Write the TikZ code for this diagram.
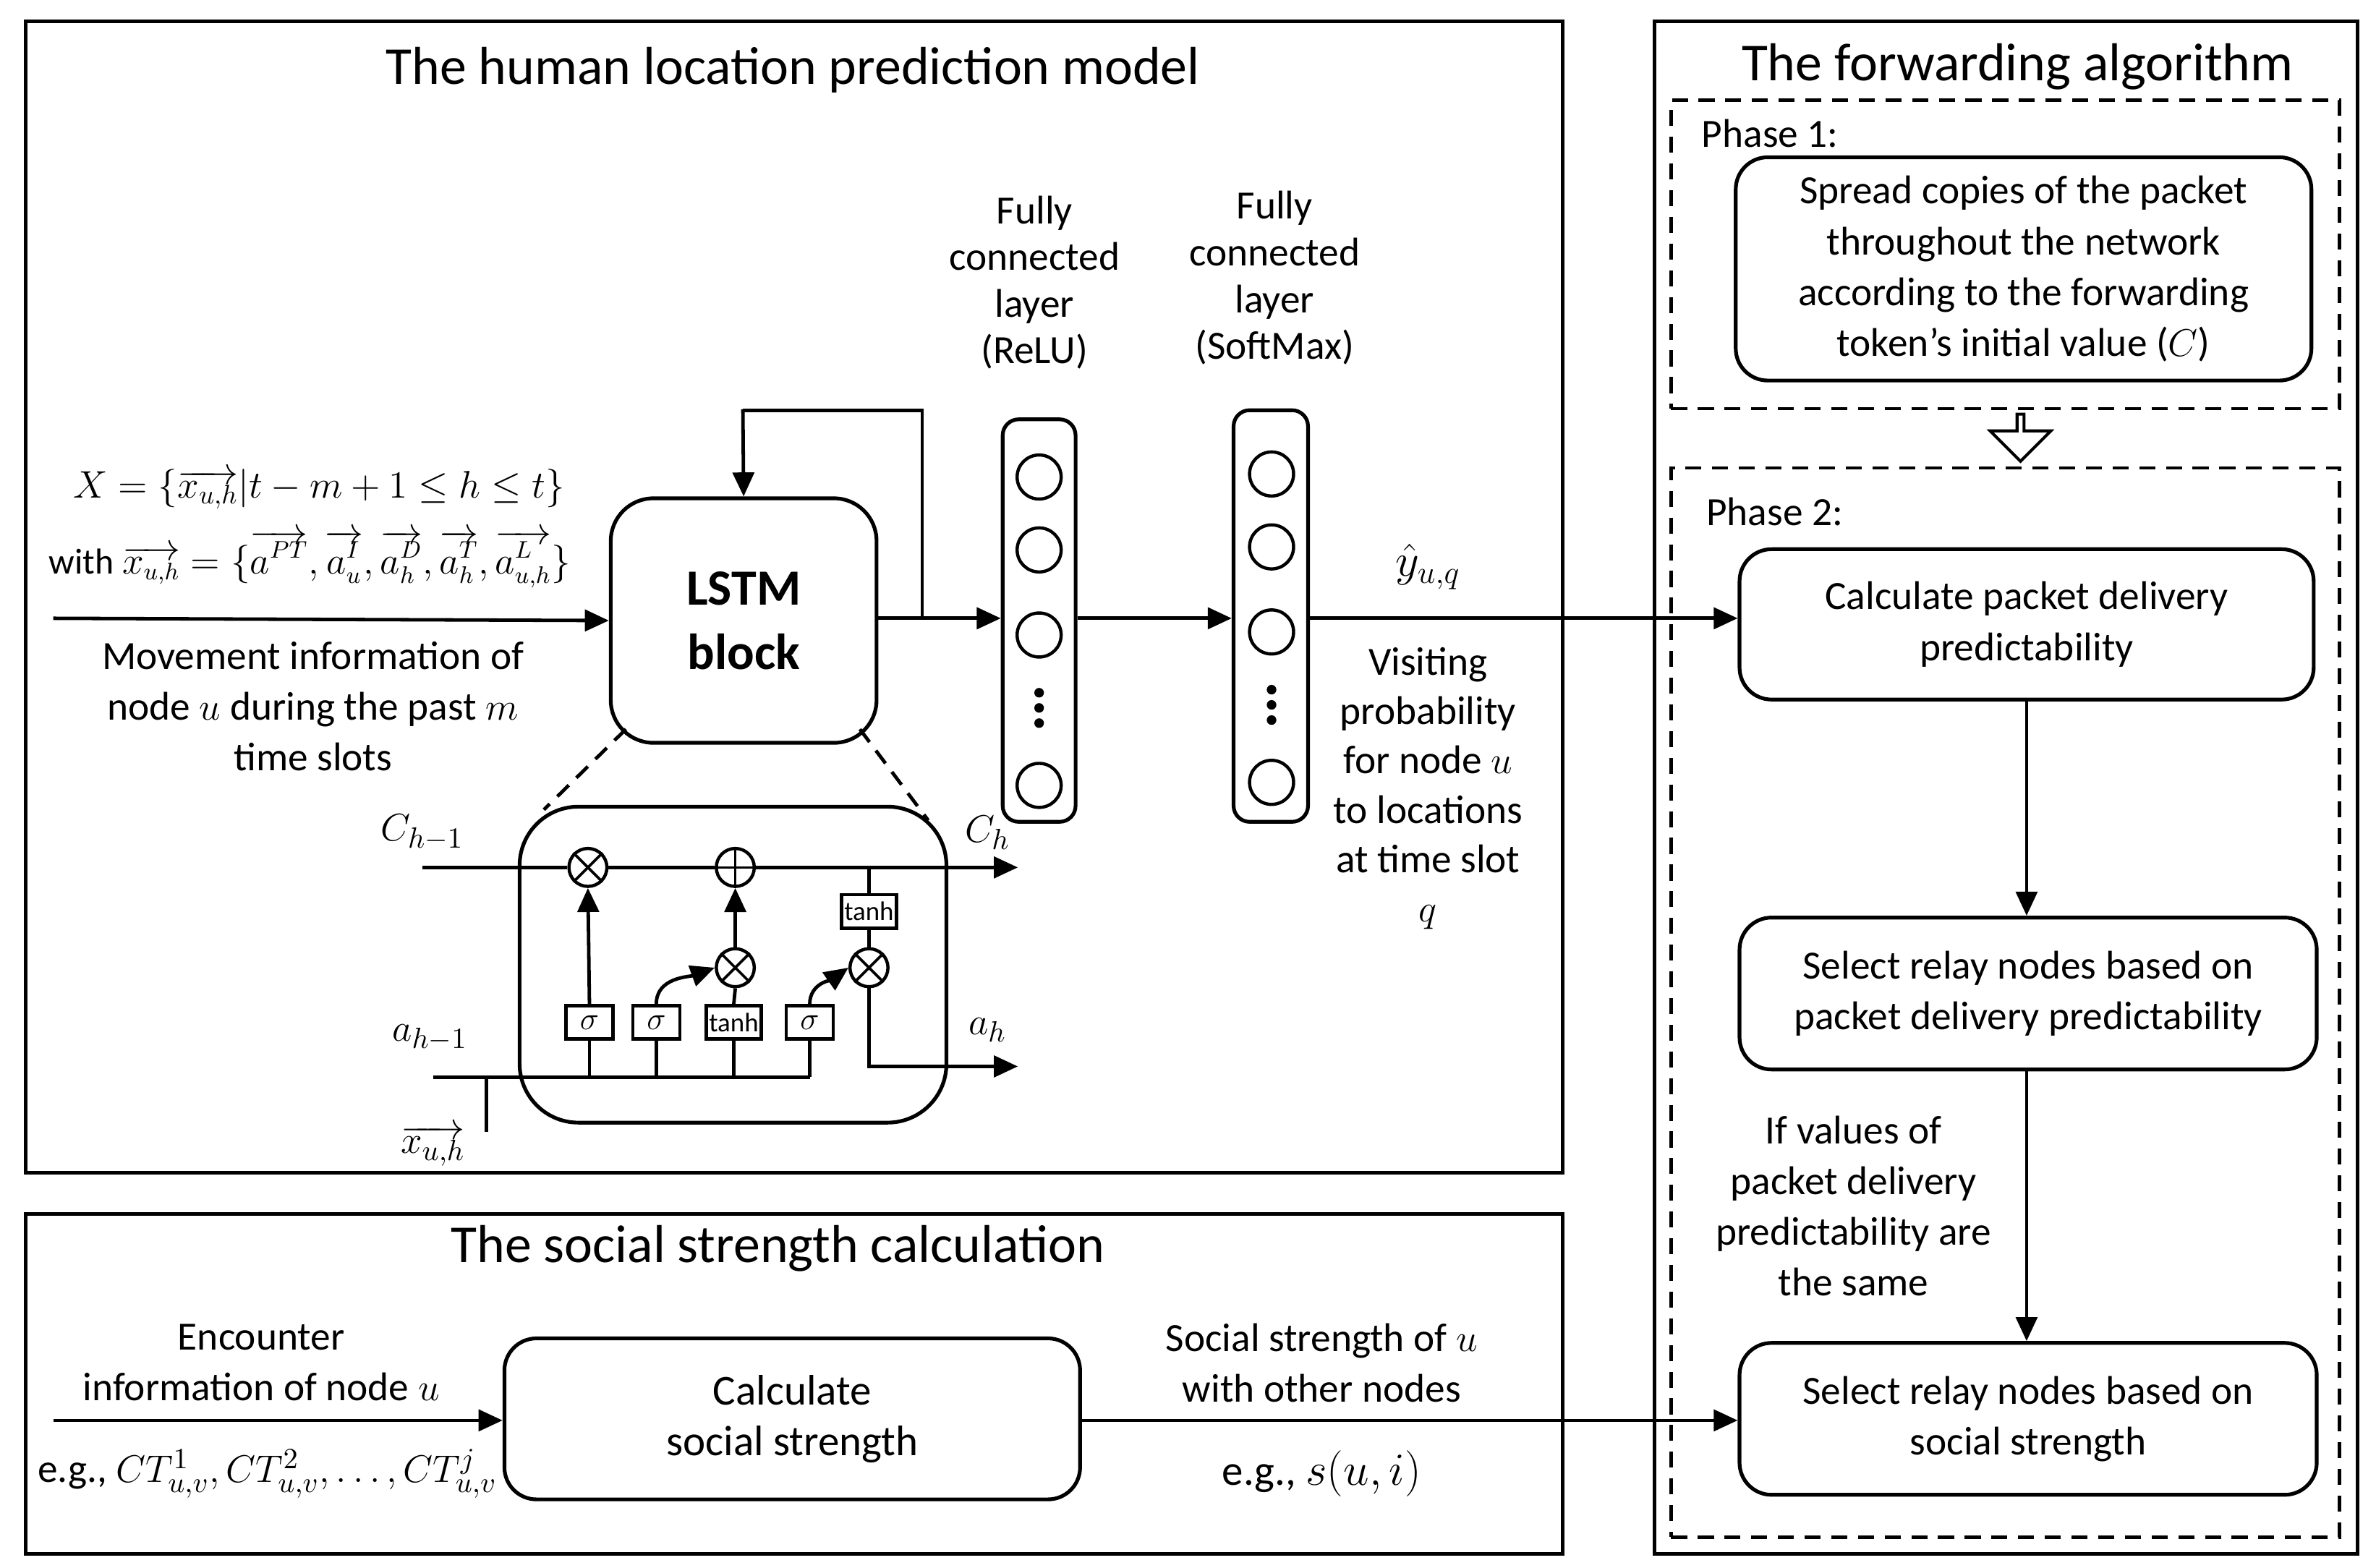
\documentclass[tikz,border=0pt]{standalone}
\usepackage{fontspec}
\setmainfont{Carlito}
\usetikzlibrary{arrows.meta,shapes.geometric,shapes.arrows}
\begin{document}
\begin{tikzpicture}[x=0.02cm,y=-0.02cm,
  box/.style={draw,line width=1.4pt,outer sep=0pt},
  rbox/.style={draw,line width=1.4pt,rounded corners=12pt},
  dbox/.style={draw,line width=1.2pt,dash pattern=on 6pt off 4pt,outer sep=0pt},
  arr/.style={line width=1.3pt,-{Triangle[length=9pt,width=8pt]}},
  ln/.style={line width=1.3pt},
  txt/.style={font=\fontsize{15}{19}\selectfont,align=center},
  ttl/.style={font=\fontsize{20}{24}\selectfont},
  op/.style={draw,circle,line width=1.2pt,minimum size=0.5cm,inner sep=0pt},
  gate/.style={draw,line width=1.2pt,minimum width=0.62cm,minimum height=0.44cm,inner sep=1pt,font=\fontsize{10}{12}\selectfont},
  neu/.style={draw,circle,line width=1.2pt,minimum size=0.58cm,inner sep=0pt}]
\useasboundingbox (0,0) rectangle (1564,1032);
% frames
\node[box,minimum width=20.24cm,minimum height=15.16cm,anchor=north west] (F1) at (17,14) {};
\node[box,minimum width=20.24cm,minimum height=4.48cm,anchor=north west] (F2) at (17,799) {};
\node[box,minimum width=9.26cm,minimum height=20.18cm,anchor=north west] (F3) at (1089,14) {};
\node[ttl] (t1) at (522,46) {The human location prediction model};
\node[ttl] (t2) at (512,822) {The social strength calculation};
\node[ttl] (t3) at (1328,44) {The forwarding algorithm};
% phases
\node[dbox,minimum width=8.8cm,minimum height=4.06cm,anchor=north west] (P1) at (1100,66) {};
\node[dbox,minimum width=8.8cm,minimum height=14.08cm,anchor=north west] (P2) at (1100,308) {};
\node[txt,anchor=west] (p1) at (1114,88) {Phase 1:};
\node[txt,anchor=west] (p2) at (1117,337) {Phase 2:};
\node[rbox,txt,minimum width=7.58cm,minimum height=2.94cm] (S) at (1332,177) {Spread copies of the packet\\throughout the network\\according to the forwarding\\token’s initial value ($C$)};
\node[single arrow,draw,line width=1.1pt,shape border rotate=270,minimum height=0.62cm,minimum width=0.8cm,single arrow head extend=0.15cm,inner sep=0pt] (ha) at (1330,287) {};
\node[rbox,txt,minimum width=7.56cm,minimum height=1.98cm] (B1) at (1334,411) {Calculate packet delivery\\predictability};
\node[rbox,txt,minimum width=7.6cm,minimum height=2cm] (B2) at (1335,654) {Select relay nodes based on\\packet delivery predictability};
\node[rbox,txt,minimum width=7.6cm,minimum height=2cm] (B3) at (1335,934) {Select relay nodes based on\\social strength};
\draw[arr] (B1.south -| 1334,0) -- (B2.north -| 1334,0);
\draw[arr] (B2.south -| 1334,0) -- (B3.north -| 1334,0);
\node[txt,font=\fontsize{15}{19}\selectfont] (iv) at (1220,794) {If values of\\packet delivery\\predictability are\\the same};
% LSTM block
\node[rbox,txt,minimum width=3.5cm,minimum height=3.22cm,rounded corners=16pt,font=\fontsize{19}{24}\bfseries\selectfont] (L) at (489.5,408.5) {LSTM\\block};
\coordinate (in) at (35,407);
\draw[arr] (in) -- (L.west);
\node[txt,font=\fontsize{14}{16}\selectfont] (f1) at (210,322) {$X=\{\overrightarrow{x_{u,h}}|t-m+1\le h\le t\}$};
\node[txt,font=\fontsize{13.5}{16}\selectfont] (f2) at (204,368) {with $\overrightarrow{x_{u,h}}=\{\overrightarrow{a^{PT}},\overrightarrow{a^{I}_{u}},\overrightarrow{a^{D}_{h}},\overrightarrow{a^{T}_{h}},\overrightarrow{a^{L}_{u,h}}\}$};
\node[txt,font=\fontsize{15}{19}\selectfont] (mv) at (206,465) {Movement information of\\node $u$ during the past $m$\\time slots};
% FC layers
\node[draw,line width=1.4pt,rounded corners=6pt,minimum width=0.96cm,minimum height=5.3cm] (FC1) at (684,408.5) {};
\node[draw,line width=1.4pt,rounded corners=6pt,minimum width=0.98cm,minimum height=5.42cm] (FC2) at (836.5,405.5) {};
\foreach \y/\n in {314/a,362/b,418/c,517/d} \node[neu] (n1\n) at (684,\y) {};
\foreach \y/\n in {312/a,360/b,416/c,515/d} \node[neu] (n2\n) at (837,\y) {};
\foreach \y in {456,466,476} \fill (684,\y) circle (1.8pt);
\foreach \y in {454,464,474} \fill (837,\y) circle (1.8pt);
\node[txt,font=\fontsize{15}{17.5}\selectfont] (l1) at (681,186) {Fully\\connected\\layer\\(ReLU)};
\node[txt,font=\fontsize{15}{17.5}\selectfont] (l2) at (839,183) {Fully\\connected\\layer\\(SoftMax)};
\coordinate (fb) at (607,407);
\draw[ln] (L.east |- fb) -- (fb);
\draw[arr] (fb) -- (FC1.west |- fb);
\draw[ln] (fb) -- (607,270) -- (489,270);
\draw[arr] (489,269.4) -- (L.north);
\draw[arr] (FC1.east |- 0,407) -- (FC2.west |- 0,407);
\draw[arr] (FC2.east |- 0,407) -- (B1.west |- 0,407);
\node[txt,font=\fontsize{17}{20}\selectfont] (yh) at (940,373) {$\hat{y}_{u,q}$};
\node[txt,font=\fontsize{15}{18.5}\selectfont] (vp) at (940,519) {Visiting\\probability\\for node $u$\\to locations\\at time slot\\$q$};
% LSTM cell
\node[draw,line width=1.4pt,rounded corners=22pt,minimum width=5.62cm,minimum height=4.16cm] (cell) at (482.5,635) {};
\draw[ln,dash pattern=on 6pt off 4pt] (412,480) -- (358,533);
\draw[ln,dash pattern=on 6pt off 4pt] (566,480) -- (611,540);
\node[op] (m1) at (387,571) {}; \draw[line width=1pt] (m1.north west)--(m1.south east) (m1.north east)--(m1.south west);
\node[op] (pl) at (484,571) {}; \draw[line width=1pt] (pl.north)--(pl.south) (pl.west)--(pl.east);
\node[op] (m2) at (484,637) {}; \draw[line width=1pt] (m2.north west)--(m2.south east) (m2.north east)--(m2.south west);
\node[op] (m3) at (572,637) {}; \draw[line width=1pt] (m3.north west)--(m3.south east) (m3.north east)--(m3.south west);
\node[gate,font=\fontsize{13}{14}\selectfont] (g1) at (388,673) {$\sigma$};
\node[gate,font=\fontsize{13}{14}\selectfont] (g2) at (432,673) {$\sigma$};
\node[gate,minimum width=0.7cm] (g3) at (483,673) {tanh};
\node[gate,font=\fontsize{13}{14}\selectfont] (g4) at (533,673) {$\sigma$};
\node[gate,minimum width=0.7cm] (g5) at (572,600) {tanh};
\coordinate (c0) at (278,571); \coordinate (c1) at (670,571);
\draw[ln] (c0) -- (m1.west) (m1.east) -- (pl.west);
\draw[arr] (pl.east) -- (c1);
\coordinate (ctap) at (572,571);
\draw[ln] (ctap) -- (g5.north) (g5.south) -- (m3.north);
\coordinate (a1) at (670,702);
\draw[arr] (m3.south) -- (572,702) -- (a1);
\coordinate (b0) at (285,709); \coordinate (b1) at (533,709);
\draw[ln] (b0) -- (b1);
\draw[ln] (320,709) -- (320,745);
\draw[ln] (g1.south) -- (388,709) (g2.south) -- (432,709) (g3.south) -- (483,709) (g4.south) -- (b1);
\draw[arr] (g1.north) -- (m1.south);
\draw[ln] (g3.north) -- (m2.south);
\draw[arr] (m2.north) -- (pl.south);
\draw[arr] (g2.north) to[out=90,in=200] (m2.west);
\draw[arr] (g4.north) to[out=90,in=215] (m3.west);
\node[txt,font=\fontsize{15}{18}\selectfont] (lc0) at (278,548) {$C_{h-1}$};
\node[txt,font=\fontsize{15}{18}\selectfont] (lc1) at (650,548) {$C_h$};
\node[txt,font=\fontsize{15}{18}\selectfont] (la0) at (283,683) {$a_{h-1}$};
\node[txt,font=\fontsize{15}{18}\selectfont] (la1) at (650,678) {$a_h$};
\node[txt,font=\fontsize{15}{18}\selectfont] (lx) at (285,754) {$\overrightarrow{x_{u,h}}$};
% social
\node[rbox,txt,font=\fontsize{16}{19}\selectfont,minimum width=7.58cm,minimum height=2.12cm] (SS) at (521.5,934) {Calculate\\social strength};
\coordinate (sin) at (35,935);
\draw[arr] (sin) -- (SS.west |- sin);
\draw[arr] (SS.east |- sin) -- (B3.west |- sin);
\node[txt] (e1) at (172,897) {Encounter\\information of node $u$};
\node[txt] (e2) at (176,970) {e.g., $CT^1_{u,v},CT^2_{u,v},\ldots,CT^j_{u,v}$};
\node[txt] (s1) at (870,897) {Social strength of $u$\\with other nodes};
\node[txt,font=\fontsize{16}{20}\selectfont] (s2) at (870,970) {e.g., $s(u,i)$};
\end{tikzpicture}
\end{document}
